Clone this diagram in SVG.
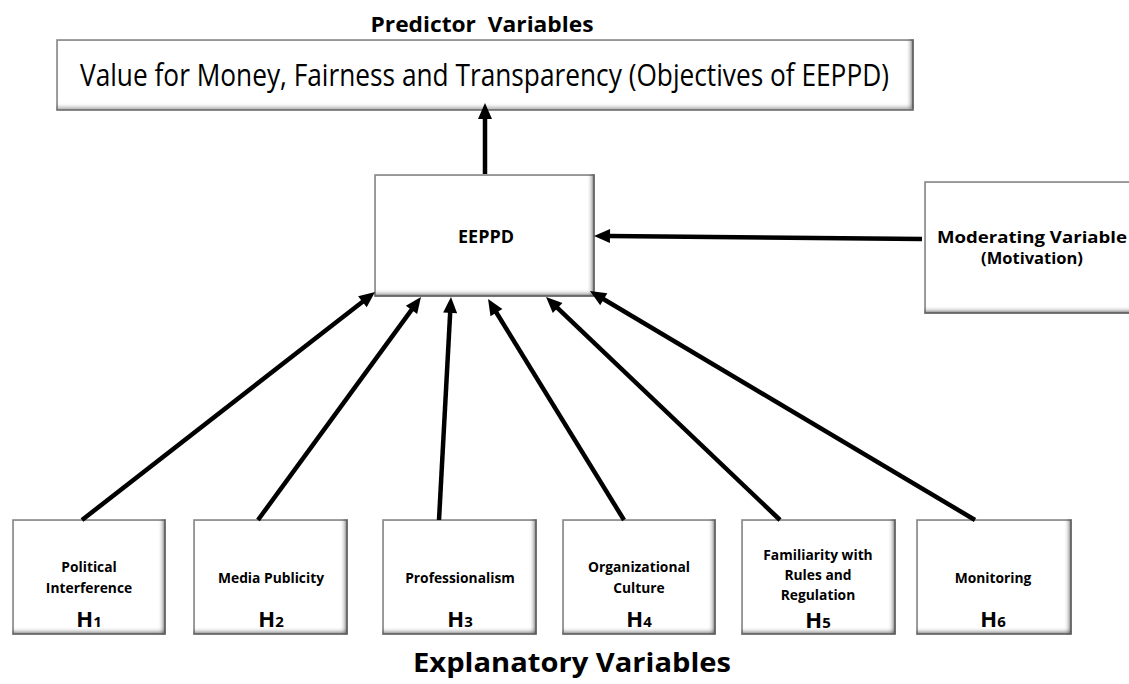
<svg xmlns="http://www.w3.org/2000/svg" width="1129" height="684" viewBox="0 0 1129 684">
<style>
.box{fill:#ffffff;stroke:#6e6e6e;stroke-width:1.5;filter:url(#bevel)}
.lbl{font-family:"Open Sans","Noto Sans",sans-serif;font-weight:bold;fill:#000;text-anchor:middle}
.sm{font-size:13.8px}
.h{font-family:"Open Sans","Noto Sans",sans-serif;font-weight:bold;font-size:22px;fill:#000;text-anchor:middle}
.arr{stroke:#000;stroke-width:4.5;fill:none;marker-end:url(#ah)}
</style>
<defs>
<filter id="bevel" x="-5%" y="-5%" width="110%" height="110%">
<feFlood flood-color="#555555" result="f"/>
<feComposite in="f" in2="SourceAlpha" operator="out" result="outside"/>
<feGaussianBlur in="outside" stdDeviation="2.2" result="blur"/>
<feOffset in="blur" dx="-3" dy="-3.5" result="sh"/>
<feComposite in="sh" in2="SourceAlpha" operator="in" result="inner"/>
<feFlood flood-color="#bbbbbb" result="f2"/>
<feComposite in="f2" in2="SourceAlpha" operator="out" result="outside2"/>
<feGaussianBlur in="outside2" stdDeviation="1.2" result="blur2"/>
<feComposite in="blur2" in2="SourceAlpha" operator="in" result="inner2"/>
<feMerge><feMergeNode in="SourceGraphic"/><feMergeNode in="inner2"/><feMergeNode in="inner"/></feMerge>
</filter>
<marker id="ah" markerUnits="userSpaceOnUse" markerWidth="18" markerHeight="16" refX="1" refY="7" orient="auto" overflow="visible">
<path d="M0,0 L16,7 L0,14 z" fill="#000"/>
</marker>
</defs>

<text class="lbl" x="482" y="32" font-size="21" textLength="223" lengthAdjust="spacingAndGlyphs" style="white-space:pre">Predictor  Variables</text>

<g id="objectives">
<rect class="box" x="57" y="40" width="856" height="70"/>
<text x="484.5" y="86" font-family="'Open Sans','Noto Sans',sans-serif" font-size="31" text-anchor="middle" textLength="809" lengthAdjust="spacingAndGlyphs" fill="#000">Value for Money, Fairness and Transparency (Objectives of EEPPD)</text>
</g>

<g id="eeppd">
<rect class="box" x="375" y="175" width="219" height="121"/>
<text class="lbl" x="486" y="243" font-size="18" textLength="56" lengthAdjust="spacingAndGlyphs">EEPPD</text>
</g>

<g id="moderating">
<rect class="box" x="925" y="182" width="215" height="131"/>
<text class="lbl" x="1032" y="243" font-size="16.5" textLength="190" lengthAdjust="spacingAndGlyphs">Moderating Variable</text>
<text class="lbl" x="1032" y="264" font-size="16.5">(Motivation)</text>
</g>

<g id="h1">
<rect class="box" x="13" y="520" width="152" height="114"/>
<text class="lbl sm" x="89" y="572">Political</text>
<text class="lbl sm" x="89" y="593">Interference</text>
<text class="h" x="89" y="627">H<tspan font-size="15">1</tspan></text>
</g>

<g id="h2">
<rect class="box" x="194" y="520" width="153" height="114"/>
<text class="lbl sm" x="271" y="583">Media Publicity</text>
<text class="h" x="271" y="627">H<tspan font-size="15">2</tspan></text>
</g>

<g id="h3">
<rect class="box" x="383" y="520" width="153" height="114"/>
<text class="lbl sm" x="460" y="583">Professionalism</text>
<text class="h" x="460" y="627">H<tspan font-size="15">3</tspan></text>
</g>

<g id="h4">
<rect class="box" x="563" y="520" width="152" height="114"/>
<text class="lbl sm" x="639" y="572">Organizational</text>
<text class="lbl sm" x="639" y="593">Culture</text>
<text class="h" x="639" y="627">H<tspan font-size="15">4</tspan></text>
</g>

<g id="h5">
<rect class="box" x="742" y="520" width="153" height="114"/>
<text class="lbl sm" x="818" y="560">Familiarity with</text>
<text class="lbl sm" x="818" y="580">Rules and</text>
<text class="lbl sm" x="818" y="599.5">Regulation</text>
<text class="h" x="818" y="628">H<tspan font-size="15">5</tspan></text>
</g>

<g id="h6">
<rect class="box" x="917" y="520" width="154" height="114"/>
<text class="lbl sm" x="993" y="583">Monitoring</text>
<text class="h" x="993" y="627">H<tspan font-size="15">6</tspan></text>
</g>

<g id="connectors">
<line class="arr" x1="485" y1="174" x2="485" y2="118"/>
<line class="arr" x1="922" y1="239" x2="609" y2="236.1"/>
<line class="arr" x1="82" y1="520" x2="363.2" y2="301.2"/>
<line class="arr" x1="258" y1="520" x2="412.1" y2="309.1"/>
<line class="arr" x1="439" y1="520" x2="450.2" y2="312"/>
<line class="arr" x1="624" y1="520" x2="495.9" y2="311.8"/>
<line class="arr" x1="780" y1="520" x2="556.9" y2="307.3"/>
<line class="arr" x1="975" y1="520" x2="602.9" y2="298.7"/>
</g>

<text class="lbl" x="572" y="672" font-size="27" textLength="318" lengthAdjust="spacingAndGlyphs">Explanatory Variables</text>
</svg>
